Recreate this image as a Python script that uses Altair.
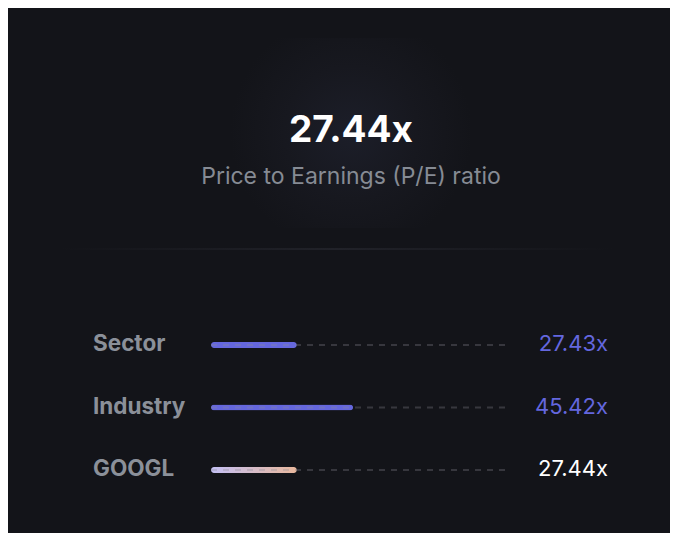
import altair as alt
import pandas as pd

categories = ["Sector", "Industry", "GOOGL"]
values = [27.43, 45.42, 27.44]
value_labels = ["27.43x", "45.42x", "27.44x"]
value_colors = ["#6467de", "#6467de", "#ffffff"]
headline = ["27.44x"]
subtitle = ["Price to Earnings (P/E) ratio"]
track_max = [94]

BG = "#131419"

df = pd.DataFrame({"cat": categories, "val": values, "lab": value_labels, "col": value_colors})
df["is_google"] = df["cat"] == "GOOGL"

xs = alt.Scale(domain=[0, track_max[0]], range=[203, 497], nice=False, zero=True)
ys = alt.Scale(type="point", domain=categories, range=[337, 462], padding=0)

base = alt.Chart(df)

glow = alt.Chart(pd.DataFrame({"a": [0]})).mark_rect(
    fill=alt.RadialGradient(
        gradient="radial",
        stops=[alt.GradientStop(color="#1c1e29", offset=0),
               alt.GradientStop(color="#17181f", offset=0.55),
               alt.GradientStop(color=BG, offset=1)],
        x1=0.5, y1=0.5, r1=0, x2=0.5, y2=0.5, r2=0.5)
).encode(x=alt.value(222), x2=alt.value(464), y=alt.value(30), y2=alt.value(220))

sep = alt.Chart(pd.DataFrame({"a": [0]})).mark_rect(
    fill=alt.LinearGradient(
        gradient="linear",
        stops=[alt.GradientStop(color=BG, offset=0),
               alt.GradientStop(color="#212229", offset=0.5),
               alt.GradientStop(color=BG, offset=1)],
        x1=0, x2=1, y1=0, y2=0)
).encode(x=alt.value(52), x2=alt.value(604), y=alt.value(240), y2=alt.value(242))

title = alt.Chart(pd.DataFrame({"t": headline})).mark_text(
    font="Inter", fontSize=37, fontWeight="bold", color="#ffffff", align="center", baseline="alphabetic"
).encode(x=alt.value(343), y=alt.value(134), text="t:N")

sub = alt.Chart(pd.DataFrame({"t": subtitle})).mark_text(
    font="Inter", fontSize=23, color="#868b94", align="center", baseline="alphabetic"
).encode(x=alt.value(343), y=alt.value(176), text="t:N")

blue_bars = base.transform_filter("!datum.is_google").mark_bar(
    size=6, cornerRadius=3, color="#6567dd"
).encode(x=alt.X("val:Q", scale=xs, axis=None), y=alt.Y("cat:N", scale=ys, axis=None))

g_bars = base.transform_filter("datum.is_google").mark_bar(
    size=6, cornerRadius=3,
    color=alt.LinearGradient(
        gradient="linear",
        stops=[alt.GradientStop(color="#c4c0f4", offset=0),
               alt.GradientStop(color="#e9b89d", offset=1)],
        x1=0, x2=1, y1=0, y2=0)
).encode(x=alt.X("val:Q", scale=xs, axis=None), y=alt.Y("cat:N", scale=ys, axis=None))

track = base.mark_rule(strokeDash=[6, 6], strokeWidth=2, color="#8a8c94", opacity=0.3).encode(
    x=alt.X("zero:Q", scale=xs, axis=None),
    x2=alt.X2("tmax:Q"),
    y=alt.Y("cat:N", scale=ys, axis=None),
).transform_calculate(zero="0", tmax=str(track_max[0]))

labels = base.mark_text(
    font="Inter", fontSize=22.5, fontWeight="bold", color="#8b9099", align="left", baseline="middle", dy=-1
).encode(x=alt.value(85), y=alt.Y("cat:N", scale=ys, axis=None), text="cat:N")

vals = base.mark_text(
    font="Inter", fontSize=22, align="right", baseline="middle", dy=-1
).encode(x=alt.value(600), y=alt.Y("cat:N", scale=ys, axis=None), text="lab:N",
         color=alt.Color("col:N", scale=None))

chart = alt.layer(glow, sep, title, sub, blue_bars, g_bars, track, labels, vals).properties(
    width=662, height=525, background=BG, padding=0, autosize=alt.AutoSizeParams(type="none")
).configure_view(stroke=None)

chart.save("out.html", embed_options={"renderer": "svg", "actions": False})
